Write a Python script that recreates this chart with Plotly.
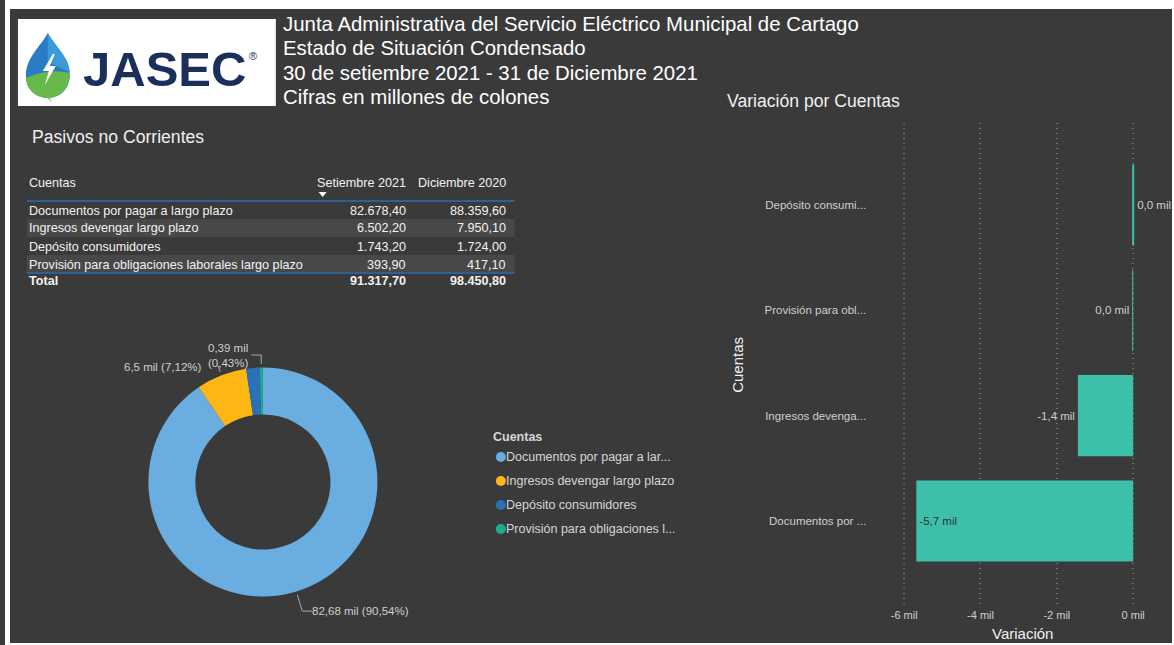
import math
import plotly.graph_objects as go

W, H = 1174, 645
BG = "#3a3a3a"
FONT = "Liberation Sans, Arial, sans-serif"

# ---------------- data ----------------
cuentas = [
    "Documentos por pagar a largo plazo",
    "Ingresos devengar largo plazo",
    "Depósito consumidores",
    "Provisión para obligaciones laborales largo plazo",
]
setiembre_2021 = [82678.40, 6502.20, 1743.20, 393.90]
diciembre_2020 = [88359.60, 7950.10, 1724.00, 417.10]
table_headers = ["Cuentas", "Setiembre 2021", "Diciembre 2020"]
total_label = "Total"

legend_title = "Cuentas"
legend_labels = [
    "Documentos por pagar a lar...",
    "Ingresos devengar largo plazo",
    "Depósito consumidores",
    "Provisión para obligaciones l...",
]
bar_tick_labels = [
    "Documentos por ...",
    "Ingresos devenga...",
    "Depósito consumi...",
    "Provisión para obl...",
]
bar_tickvals = [-6000, -4000, -2000, 0]
bar_ticktext = ["-6 mil", "-4 mil", "-2 mil", "0 mil"]

pie_label_shown = [True, True, False, True]
pie_label_decimals = [2, 1, 2, 2]

title_lines = [
    "Junta Administrativa del Servicio Eléctrico Municipal de Cartago",
    "Estado de Situación Condensado",
    "30 de setiembre 2021 - 31 de Diciembre 2021",
    "Cifras en millones de colones",
]

# ---------------- styles ----------------
pie_colors = ["#6aade0", "#fdb714", "#2a71b8", "#1cae8c"]
pie_leader_ext = [20, 10, 12, 12]
pie_leader_h = [10, 0, 10, 10]
pie_text_gap = [3, 14, 3, 1]
pie_text_dy = [0, 2, 0, 0]
bar_color = "#3dc0a9"
LPAD = 5  # annotation left-padding compensation


def X(px):
    return px / W


def Y(py):
    return 1 - py / H


def es_num(v, d=2):
    s = f"{v:,.{d}f}"
    return s.replace(",", "#").replace(".", ",").replace("#", ".")


def fmt_mil(v):
    s = f"{v / 1000:.1f}"
    if float(s) == 0:
        s = "0.0"
    return s.replace(".", ",") + " mil"


def path(points_cmds):
    out = []
    for item in points_cmds:
        if isinstance(item, str):
            out.append(item)
        else:
            out.append(f"{X(item[0]):.5f},{Y(item[1]):.5f}")
    return " ".join(out)


def text_at(x, y, text, size, color, anchor="left", **kw):
    if anchor == "left":
        x = x - LPAD
    d = dict(xref="paper", yref="paper", x=X(x), y=Y(y), xanchor=anchor, yanchor="middle", text=text,
             showarrow=False, font=dict(family=FONT, size=size, color=color))
    d.update(kw)
    return d


fig = go.Figure()
shapes = []
annotations = []

# white border strips (screenshot frame)
for x0, y0, x1, y1 in [(0, 0, W, 9), (0, 0, 5, H), (W - 2, 0, W, H), (0, H - 2, W, H)]:
    shapes.append(dict(type="rect", xref="paper", yref="paper", x0=X(x0), x1=X(x1), y0=Y(y1), y1=Y(y0),
                       fillcolor="white", line=dict(width=0), layer="above"))

# ---------------- logo ----------------
shapes.append(dict(type="rect", xref="paper", yref="paper", x0=X(13), x1=X(272), y0=Y(106), y1=Y(19),
                   fillcolor="white", line=dict(width=0)))
drop = path(["M", (43, 33), "C", (50, 46), (65, 58), (65, 75), "C", (65, 89), (55, 98), (43, 98),
             "C", (31, 98), (21, 89), (21, 75), "C", (21, 58), (36, 46), (43, 33), "Z"])
shapes.append(dict(type="path", xref="paper", yref="paper", path=drop, fillcolor="#2a7cc4", line=dict(width=0)))
upper_light = path(["M", (43, 33), "C", (50, 46), (65, 58), (65, 72), "L", (43, 62), "Z"])
shapes.append(dict(type="path", xref="paper", yref="paper", path=upper_light, fillcolor="#3c9ad8", line=dict(width=0)))
green = path(["M", (21, 78), "Q", (43, 68), (65, 73), "C", (65, 89), (55, 98), (43, 98),
              "C", (31, 98), (21, 89), (21, 78), "Z"])
shapes.append(dict(type="path", xref="paper", yref="paper", path=green, fillcolor="#66b94a", line=dict(width=0)))
stem = path(["M", (42, 97), "L", (47, 103), "L", (44, 97), "Z"])
shapes.append(dict(type="path", xref="paper", yref="paper", path=stem, fillcolor="#66b94a", line=dict(width=0)))
bolt = path(["M", (48, 54), "L", (38, 71), "L", (44, 71), "L", (40, 85), "L", (51, 66), "L", (45, 66), "L", (50, 54), "Z"])
shapes.append(dict(type="path", xref="paper", yref="paper", path=bolt, fillcolor="white", line=dict(width=0)))
annotations.append(text_at(81, 69, "<b>JASEC</b>", 49, "#1b2f5b"))
annotations.append(text_at(249, 56, "®", 11, "#1b2f5b", anchor="center"))

# ---------------- titles ----------------
for i, line in enumerate(title_lines):
    annotations.append(text_at(282, 24 + 24.3 * i, line, 20.4, "white"))
annotations.append(text_at(30, 137, "Pasivos no Corrientes", 17.6, "#f0f0f0"))
annotations.append(text_at(728, 101, "Variación por Cuentas", 17.6, "#f0f0f0"))

# ---------------- table ----------------
TX0, TX1 = 22, 512
col_x = [27, 405, 505]
row_h = 18
row_top = 201
txt_col = "#f2f2f2"
TS = 12.6
annotations.append(text_at(col_x[0], 183, table_headers[0], TS, txt_col))
for j in (1, 2):
    annotations.append(text_at(col_x[j], 183, table_headers[j], TS, txt_col, anchor="right"))
shapes.append(dict(type="path", xref="paper", yref="paper",
                   path=path(["M", (315, 192), "L", (323, 192), "L", (319, 197), "Z"]),
                   fillcolor="white", line=dict(width=0)))
for i, name in enumerate(cuentas):
    y0 = row_top + i * row_h
    if i % 2 == 1:
        shapes.append(dict(type="rect", xref="paper", yref="paper", x0=X(TX0), x1=X(TX1), y0=Y(y0 + row_h),
                           y1=Y(y0), fillcolor="#484848", line=dict(width=0), layer="below"))
    yc = y0 + row_h / 2 + 0.5
    annotations.append(text_at(col_x[0], yc, name, TS, txt_col))
    annotations.append(text_at(col_x[1], yc, es_num(setiembre_2021[i]), TS, txt_col, anchor="right"))
    annotations.append(text_at(col_x[2], yc, es_num(diciembre_2020[i]), TS, txt_col, anchor="right"))
total_y = row_top + len(cuentas) * row_h + 8
annotations.append(text_at(col_x[0], total_y, f"<b>{total_label}</b>", TS, txt_col))
annotations.append(text_at(col_x[1], total_y, f"<b>{es_num(sum(setiembre_2021))}</b>", TS, txt_col, anchor="right"))
annotations.append(text_at(col_x[2], total_y, f"<b>{es_num(sum(diciembre_2020))}</b>", TS, txt_col, anchor="right"))
for ly in (row_top, row_top + len(cuentas) * row_h):
    shapes.append(dict(type="line", xref="paper", yref="paper", x0=X(TX0), x1=X(TX1), y0=Y(ly), y1=Y(ly),
                       line=dict(color="#2d6192", width=2)))

# ---------------- donut ----------------
CX, CY, R = 259, 482, 115
fig.add_trace(go.Pie(
    labels=cuentas, values=setiembre_2021, hole=0.59, sort=False, direction="clockwise", rotation=0,
    marker=dict(colors=pie_colors, line=dict(width=0)), textinfo="none", showlegend=False,
    hoverinfo="label+value+percent",
    domain=dict(x=[X(CX - R), X(CX + R)], y=[Y(CY + R), Y(CY - R)]),
))
tot = sum(setiembre_2021)
cum = 0.0
for i, v in enumerate(setiembre_2021):
    frac = v / tot
    mid = (cum + frac / 2) * 2 * math.pi
    cum += frac
    if not pie_label_shown[i]:
        continue
    ux, uy = math.sin(mid), -math.cos(mid)
    p = (CX + (R + 3) * ux, CY + (R + 3) * uy)
    e = (CX + (R + pie_leader_ext[i]) * ux, CY + (R + pie_leader_ext[i]) * uy)
    side = 1 if ux > 0 else -1
    h = (e[0] + pie_leader_h[i] * side, e[1])
    pts = ["M", p, "L", e] + (["L", h] if pie_leader_h[i] else [])
    shapes.append(dict(type="path", xref="paper", yref="paper", path=path(pts),
                       line=dict(color="#a8a8a8", width=1)))
    mil = es_num(v / 1000, pie_label_decimals[i])
    pct = es_num(frac * 100, 2)
    if frac < 0.02:
        label = f"{mil} mil<br>({pct}%)"
    else:
        label = f"{mil} mil ({pct}%)"
    annotations.append(text_at(h[0] + pie_text_gap[i] * side, h[1] + pie_text_dy[i], label, 11.5, "#cfcfcf",
                               anchor="left" if side > 0 else "right", align="left"))

# manual legend
annotations.append(text_at(493, 437, f"<b>{legend_title}</b>", 12.5, "#d6d6d6"))
for i, lab in enumerate(legend_labels):
    ly = 457 + 24 * i
    shapes.append(dict(type="circle", xref="paper", yref="paper", x0=X(493), x1=X(503), y0=Y(ly + 5),
                       y1=Y(ly - 5), fillcolor=pie_colors[i], line=dict(width=0)))
    annotations.append(text_at(506, ly, lab, 12.5, "#d6d6d6"))

# ---------------- variation bar chart ----------------
variacion = [s - d for s, d in zip(setiembre_2021, diciembre_2020)]
order = sorted(range(len(cuentas)), key=lambda k: variacion[k])
bar_y = [cuentas[k] for k in order]
bar_x = [variacion[k] for k in order]
bar_text = [fmt_mil(variacion[k]) for k in order]
bar_pos = ["inside" if abs(variacion[k]) > 3000 else "outside" for k in order]
fig.add_trace(go.Bar(
    x=bar_x, y=bar_y, orientation="h", width=0.77, marker=dict(color=bar_color, line=dict(width=0)),
    text=bar_text, textposition=bar_pos, insidetextanchor="end", textangle=0,
    insidetextfont=dict(family=FONT, size=11.5, color="#333333"),
    outsidetextfont=dict(family=FONT, size=11.5, color="#cfcfcf"),
    cliponaxis=False, showlegend=False, xaxis="x", yaxis="y",
))
fig.update_xaxes(domain=[X(895), X(1160)], range=[-6208.7, 704.3], tickvals=bar_tickvals, ticktext=bar_ticktext,
                 showgrid=True, gridcolor="#707070", griddash="1px,4px", gridwidth=1.5, zeroline=False,
                 showline=False, ticks="", tickfont=dict(family=FONT, size=11, color="#cfcfcf"), fixedrange=True)
fig.update_yaxes(domain=[Y(607), Y(123)], range=[-0.816, 3.778], type="category", categoryorder="array",
                 categoryarray=bar_y, tickvals=[cuentas[k] for k in order],
                 ticktext=[bar_tick_labels[k] for k in order], showgrid=False, zeroline=False, showline=False,
                 ticks="", ticklabelstandoff=29, tickfont=dict(family=FONT, size=11.5, color="#cfcfcf"),
                 fixedrange=True)
annotations.append(text_at(735, 365, "Cuentas", 15, "#f0f0f0", anchor="center", textangle=-90))
annotations.append(text_at(1022, 633, "Variación", 15, "#f0f0f0", anchor="center"))

fig.update_layout(
    width=W, height=H, margin=dict(l=0, r=0, t=0, b=0), paper_bgcolor=BG, plot_bgcolor="rgba(0,0,0,0)",
    shapes=shapes, annotations=annotations, font=dict(family=FONT), showlegend=False,
)

fig.write_html(
    "out.html",
    config={"displayModeBar": False},
    post_script="document.body.style.margin='0';document.body.style.overflow='hidden';",
)
